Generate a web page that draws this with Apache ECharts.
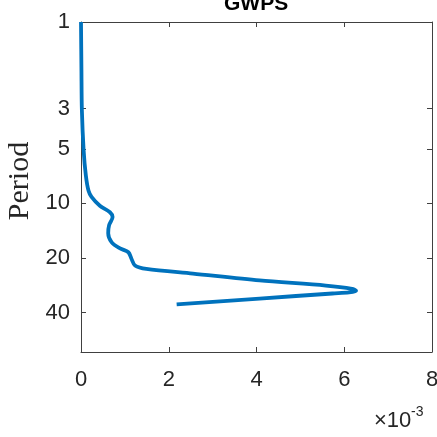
<!DOCTYPE html>
<html>
<head>
<meta charset="utf-8">
<script src="https://cdn.jsdelivr.net/npm/echarts@6/dist/echarts.min.js"></script>
<style>
  html, body { margin: 0; padding: 0; background: #fff; }
  #chart { width: 437px; height: 437px; }
</style>
</head>
<body>
<div id="chart"></div>
<script>
// GWPS curve: power (raw) vs period
var power = [0, 0.00001, 0.00002, 0.00006, 0.00011, 0.00017, 0.00024, 0.00043, 0.00066, 0.00072,
  0.00064, 0.00062, 0.00070, 0.00089, 0.00108, 0.00115, 0.00123, 0.00149, 0.00255, 0.00407,
  0.00558, 0.00618, 0.00627, 0.00611, 0.00573, 0.00407, 0.00218];
var period = [1, 1.84, 3.06, 5.1, 7.0, 8.5, 9.2, 10.3, 11.2, 11.9,
  13.2, 14.6, 16.4, 17.7, 18.6, 20.2, 22.0, 23.0, 24.4, 26.6,
  28.4, 29.6, 30.3, 31.0, 31.4, 33.5, 36.1];
var periodTicks = [1, 3, 5, 10, 20, 40];
var periodMinorTicks = [3, 5, 10, 20, 40];

var seriesData = power.map(function (p, i) { return [p, period[i]]; });

var axisColor = '#404040';
var labelColor = '#262626';
var labelFont = 'Liberation Sans, Arial, sans-serif';

var chart = echarts.init(document.getElementById('chart'));

var option = {
  animation: false,
  title: {
    text: 'GWPS',
    left: 224,
    top: -6,
    padding: 0,
    textStyle: { fontFamily: labelFont, fontSize: 21, fontWeight: 'bold', color: '#000' }
  },
  grid: { left: 81, right: 5, top: 22, bottom: 85, containLabel: false, outerBoundsMode: 'none' },
  xAxis: [
    {
      type: 'value',
      position: 'bottom',
      min: 0, max: 0.008, interval: 0.002,
      axisLine: { show: true, onZero: false, lineStyle: { color: axisColor, width: 1 } },
      axisTick: { show: true, inside: true, length: 5, lineStyle: { color: axisColor } },
      axisLabel: {
        margin: 17,
        color: labelColor, fontFamily: labelFont, fontSize: 22,
        formatter: function (v) { return String(Math.round(v * 1000)); }
      },
      splitLine: { show: false }
    },
    {
      type: 'value',
      position: 'top',
      min: 0, max: 0.008, interval: 0.002,
      axisLine: { show: true, onZero: false, lineStyle: { color: axisColor, width: 1 } },
      axisTick: { show: true, inside: true, length: 5, lineStyle: { color: axisColor } },
      axisLabel: { show: false },
      splitLine: { show: false }
    }
  ],
  yAxis: [
    {
      type: 'log',
      logBase: 10,
      inverse: true,
      min: 1, max: 66,
      position: 'left',
      name: 'Period',
      nameLocation: 'middle',
      nameGap: 41,
      nameTextStyle: {
        fontFamily: 'Liberation Serif, Times New Roman, serif', fontSize: 30, color: labelColor,
        padding: [0, 0, 0, 12]
      },
      axisLine: { show: true, onZero: false, lineStyle: { color: axisColor, width: 1 } },
      axisTick: { show: true, inside: true, length: 5, customValues: periodMinorTicks, lineStyle: { color: axisColor } },
      axisLabel: {
        margin: 11,
        color: labelColor, fontFamily: labelFont, fontSize: 22,
        customValues: periodTicks,
        formatter: function (v) { return String(Math.round(v)); }
      },
      splitLine: { show: false },
      minorTick: { show: false }
    },
    {
      type: 'log',
      logBase: 10,
      inverse: true,
      min: 1, max: 66,
      position: 'right',
      axisLine: { show: true, onZero: false, lineStyle: { color: axisColor, width: 1 } },
      axisTick: { show: true, inside: true, length: 5, customValues: periodMinorTicks, lineStyle: { color: axisColor } },
      axisLabel: { show: false },
      splitLine: { show: false }
    }
  ],
  graphic: [
    {
      type: 'text',
      left: 374, top: 410,
      style: { text: '×10', fontFamily: labelFont, fontSize: 22, fill: labelColor }
    },
    {
      type: 'text',
      left: 411, top: 405,
      style: { text: '-3', fontFamily: labelFont, fontSize: 14, fill: labelColor }
    }
  ],
  series: [
    {
      type: 'line',
      xAxisIndex: 0,
      yAxisIndex: 0,
      data: seriesData,
      showSymbol: false,
      smooth: 0.3,
      clip: false,
      lineStyle: { color: '#0072BD', width: 3.8 }
    }
  ]
};

chart.setOption(option);
</script>
</body>
</html>
